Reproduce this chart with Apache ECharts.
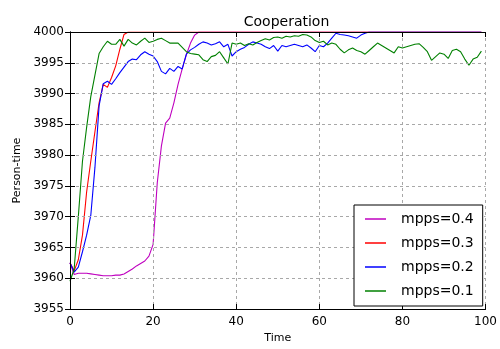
<!DOCTYPE html>
<html>
<head>
<meta charset="utf-8">
<script src="https://cdn.jsdelivr.net/npm/echarts@6/dist/echarts.min.js"></script>
<style>
html,body{margin:0;padding:0;background:#fff;}
#chart{width:500px;height:349px;}
</style>
</head>
<body>
<div id="chart"></div>
<script>
const seriesNames = ['mpps=0.4', 'mpps=0.3', 'mpps=0.2', 'mpps=0.1'];
const xTicks = [0, 20, 40, 60, 80, 100];
const yTicks = [3955, 3960, 3965, 3970, 3975, 3980, 3985, 3990, 3995, 4000];

const mpps04 = [3962.5, 3960.6, 3960.8, 3960.8, 3960.8, 3960.7, 3960.6, 3960.5, 3960.4, 3960.4,
  3960.4, 3960.5, 3960.5, 3960.7, 3961.1, 3961.5, 3962.0, 3962.4, 3962.8, 3963.6,
  3965.5, 3975.5, 3981.5, 3985.2, 3986.0, 3988.5, 3991.5, 3994.0, 3996.3, 3998.2,
  3999.5, 4000, 4000, 4000, 4000, 4000, 4000, 4000, 4000, 4000,
  4000, 4000, 4000, 4000, 4000, 4000, 4000, 4000, 4000, 4000,
  4000, 4000, 4000, 4000, 4000, 4000, 4000, 4000, 4000, 4000,
  4000, 4000, 4000, 4000, 4000, 4000, 4000, 4000, 4000, 4000,
  4000, 4000, 4000, 4000, 4000, 4000, 4000, 4000, 4000, 4000,
  4000, 4000, 4000, 4000, 4000, 4000, 4000, 4000, 4000, 4000,
  4000, 4000, 4000, 4000, 4000, 4000, 4000, 4000, 4000, 4000];

const mpps03 = [3962.5, 3961.2, 3963.0, 3967.0, 3974.0, 3979.0, 3983.8, 3988.5, 3991.5, 3991.0,
  3992.6, 3994.5, 3997.2, 3999.6, 4000, 4000, 4000, 4000, 4000, 4000,
  4000, 4000, 4000, 4000, 4000, 4000, 4000, 4000, 4000, 4000,
  4000, 4000, 4000, 4000, 4000, 4000, 4000, 4000, 4000, 4000,
  4000, 4000, 4000, 4000, 4000, 4000, 4000, 4000, 4000, 4000,
  4000, 4000, 4000, 4000, 4000, 4000, 4000, 4000, 4000, 4000,
  4000, 4000, 4000, 4000, 4000, 4000, 4000, 4000, 4000, 4000,
  4000, 4000, 4000, 4000, 4000, 4000, 4000, 4000, 4000, 4000,
  4000, 4000, 4000, 4000, 4000, 4000, 4000, 4000, 4000, 4000,
  4000, 4000, 4000, 4000, 4000, 4000, 4000, 4000, 4000, 4000];

const mpps02 = [3962.5, 3961.0, 3961.8, 3964.3, 3967.0, 3970.2, 3978.0, 3988.0, 3991.6, 3992.0,
  3991.5, 3992.4, 3993.4, 3994.3, 3995.2, 3995.6, 3995.5, 3996.3, 3996.8, 3996.4,
  3996.1, 3995.2, 3993.6, 3993.2, 3994.1, 3993.6, 3994.4, 3994.0, 3996.4, 3997.1,
  3997.5, 3998.0, 3998.4, 3998.2, 3997.9, 3998.1, 3998.4, 3997.6, 3998.0, 3996.1,
  3996.8, 3997.2, 3997.5, 3998.0, 3998.4, 3998.2, 3998.0, 3997.6, 3997.3, 3997.8,
  3996.9, 3997.8, 3997.6, 3997.8, 3998.0, 3997.8, 3997.6, 3997.9, 3997.4, 3996.8,
  3997.8, 3997.6, 3998.2, 3999.0, 3999.8, 3999.6, 3999.5, 3999.4, 3999.2, 3999.0,
  3999.5, 3999.8, 4000, 4000, 4000, 4000, 4000, 4000, 4000, 4000,
  4000, 4000, 4000, 4000, 4000, 4000, 4000, 4000, 4000, 4000,
  4000, 4000, 4000, 4000, 4000, 4000, 4000, 4000, 4000, 4000];

const mpps01 = [3959.5, 3961.5, 3970.0, 3979.0, 3984.5, 3989.5, 3993.0, 3996.5, 3997.6, 3998.5,
  3998.0, 3998.0, 3998.8, 3997.7, 3998.8, 3998.2, 3997.9, 3998.5, 3999.0, 3998.3,
  3998.5, 3998.8, 3999.0, 3998.6, 3998.2, 3998.2, 3998.2, 3997.5, 3996.8, 3996.5,
  3996.4, 3996.3, 3995.5, 3995.2, 3996.0, 3996.2, 3996.8, 3995.8, 3994.8, 3998.2,
  3998.0, 3998.2, 3997.8, 3998.1, 3997.9, 3998.3, 3998.6, 3998.9, 3998.7, 3999.1,
  3999.2, 3999.0, 3999.3, 3999.2, 3999.4, 3999.3, 3999.6, 3999.5, 3999.2, 3998.6,
  3998.3, 3998.5, 3997.9, 3998.2, 3998.0, 3997.2, 3996.6, 3997.1, 3997.4, 3997.0,
  3996.8, 3996.4, 3997.0, 3997.6, 3998.2, 3997.8, 3997.4, 3997.0, 3996.6, 3997.6,
  3997.4, 3997.6, 3997.8, 3998.0, 3998.1, 3997.5, 3996.8, 3995.4, 3996.0, 3996.6,
  3996.4, 3995.7, 3997.0, 3997.2, 3996.8, 3995.6, 3994.6, 3995.6, 3995.9, 3996.9];

const seriesData = [mpps04, mpps03, mpps02, mpps01];
const colors = ['#bf00bf', '#ff0000', '#0000ff', '#008000'];

const FONT = 'DejaVu Sans';
const chart = echarts.init(document.getElementById('chart'), null, {renderer: 'canvas'});

function pairs(arr) { return arr.map((v, i) => [i, v]); }

const gridLine = {show: true, lineStyle: {color: '#a8a8a8', type: [3, 3], width: 1}};

const option = {
  animation: false,
  backgroundColor: '#fff',
  textStyle: {fontFamily: FONT},
  title: {
    text: 'Cooperation',
    left: 281.5, top: 10, textAlign: 'center',
    textStyle: {fontFamily: FONT, fontSize: 14, fontWeight: 'normal', color: '#000'}
  },
  grid: {left: 70, right: 7, top: 32, bottom: 36, containLabel: false},
  xAxis: [{
    type: 'value', position: 'bottom', min: xTicks[0], max: xTicks[xTicks.length - 1], interval: 20,
    name: 'Time', nameLocation: 'middle', nameGap: 24,
    nameTextStyle: {fontFamily: FONT, fontSize: 11, color: '#000'},
    axisLine: {show: true, lineStyle: {color: '#000', width: 1}},
    axisTick: {show: true, inside: true, length: 5, lineStyle: {color: '#000'}},
    axisLabel: {fontFamily: FONT, fontSize: 12, color: '#000', margin: 7},
    splitLine: gridLine, z: 5
  }, {
    type: 'value', position: 'top', min: xTicks[0], max: xTicks[xTicks.length - 1], interval: 20,
    axisLine: {show: true, lineStyle: {color: '#000', width: 1}},
    axisTick: {show: true, inside: true, length: 5, lineStyle: {color: '#000'}},
    axisLabel: {show: false}, splitLine: {show: false}, z: 5
  }],
  yAxis: [{
    type: 'value', position: 'left', min: yTicks[0], max: yTicks[yTicks.length - 1], interval: 5,
    name: 'Person-time', nameLocation: 'middle', nameGap: 44,
    nameTextStyle: {fontFamily: FONT, fontSize: 11, color: '#000'},
    axisLine: {show: true, lineStyle: {color: '#000', width: 1}},
    axisTick: {show: true, inside: true, length: 5, lineStyle: {color: '#000'}},
    axisLabel: {fontFamily: FONT, fontSize: 12, color: '#000', margin: 6, formatter: v => String(v)},
    splitLine: gridLine, z: 5
  }, {
    type: 'value', position: 'right', min: yTicks[0], max: yTicks[yTicks.length - 1], interval: 5,
    axisLine: {show: true, lineStyle: {color: '#000', width: 1}},
    axisTick: {show: true, inside: true, length: 5, lineStyle: {color: '#000'}},
    axisLabel: {show: false}, splitLine: {show: false}, z: 5
  }],
  legend: {
    orient: 'vertical', left: 354, top: 205,
    padding: [6, 9, 7, 11],
    itemWidth: 21, itemHeight: 1.5, itemGap: 8,
    icon: 'rect',
    borderColor: '#000', borderWidth: 1, borderRadius: 0, backgroundColor: '#fff',
    textStyle: {fontFamily: FONT, fontSize: 14, color: '#000', lineHeight: 16, padding: [0, 0, 0, 10]},
    data: seriesNames.map(n => ({name: n, icon: 'rect'})), z: 10
  },
  series: seriesData.map((d, i) => ({
    name: seriesNames[i], type: 'line', data: pairs(d),
    xAxisIndex: 0, yAxisIndex: 0,
    symbol: 'none', showSymbol: false,
    lineStyle: {color: colors[i], width: 1.1},
    itemStyle: {color: colors[i]},
    z: 2
  }))
};
chart.setOption(option);
</script>
</body>
</html>
